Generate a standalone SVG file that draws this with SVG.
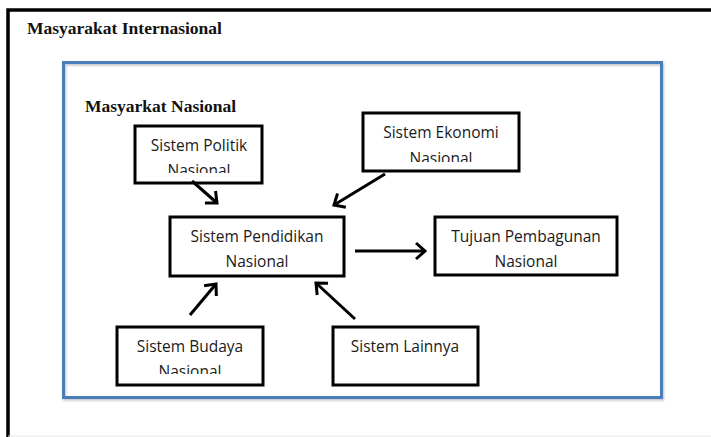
<svg xmlns="http://www.w3.org/2000/svg" width="711" height="437" viewBox="0 0 711 437">
<style>
.node rect{fill:#fff;stroke:#000;stroke-width:3}
.lbl{font-family:"Open Sans","Liberation Sans",sans-serif;font-size:15.5px;fill:#1a1a1a;text-anchor:middle}
.ttl{font-family:"Liberation Serif","Times New Roman",serif;font-weight:bold;font-size:17.5px;fill:#111}
.conn line{stroke:#000;stroke-width:3;marker-end:url(#ah)}
</style>
<defs>
<marker id="ah" markerUnits="userSpaceOnUse" markerWidth="20" markerHeight="20" refX="12" refY="10" orient="auto">
<path d="M3,2 L12,10 L3,18" fill="none" stroke="#000" stroke-width="3"/>
</marker>
<clipPath id="cPol"><rect x="135" y="126" width="127" height="47"/></clipPath>
<clipPath id="cEko"><rect x="363" y="113" width="156" height="49"/></clipPath>
<clipPath id="cBud"><rect x="117" y="327" width="146" height="47"/></clipPath>
<filter id="sh" x="-5%" y="-5%" width="110%" height="110%"><feDropShadow dx="1" dy="1.5" stdDeviation="1" flood-color="#000" flood-opacity="0.25"/></filter>
</defs>
<rect width="711" height="437" fill="#fff"/>
<g id="outer">
<path d="M8,437 V10 H711" fill="none" stroke="#000" stroke-width="3.5"/>
<line x1="8" y1="436" x2="711" y2="436" stroke="#e6e6e6" stroke-width="1"/>
<text class="ttl" x="27" y="34">Masyarakat Internasional</text>
</g>
<g id="nasional">
<rect x="63.5" y="62.5" width="598" height="335" fill="none" stroke="#4a7ebb" stroke-width="3" filter="url(#sh)"/>
<text class="ttl" x="85" y="112">Masyarkat Nasional</text>
</g>
<g id="politik" class="node">
<rect x="135" y="126" width="127" height="57"/>
<g clip-path="url(#cPol)">
<text class="lbl" x="199" y="151">Sistem Politik</text>
<text class="lbl" x="199" y="176">Nasional</text>
</g>
</g>
<g id="ekonomi" class="node">
<rect x="363" y="113" width="156" height="58"/>
<g clip-path="url(#cEko)">
<text class="lbl" x="441" y="138">Sistem Ekonomi</text>
<text class="lbl" x="441" y="164">Nasional</text>
</g>
</g>
<g id="pendidikan" class="node">
<rect x="170" y="217" width="174" height="59"/>
<text class="lbl" x="257" y="242">Sistem Pendidikan</text>
<text class="lbl" x="257" y="267">Nasional</text>
</g>
<g id="tujuan" class="node">
<rect x="435" y="217" width="182" height="58"/>
<text class="lbl" x="526" y="242">Tujuan Pembagunan</text>
<text class="lbl" x="526" y="267">Nasional</text>
</g>
<g id="budaya" class="node">
<rect x="117" y="327" width="146" height="58"/>
<g clip-path="url(#cBud)">
<text class="lbl" x="190" y="352">Sistem Budaya</text>
<text class="lbl" x="190" y="377">Nasional</text>
</g>
</g>
<g id="lainnya" class="node">
<rect x="333" y="327" width="145" height="58"/>
<text class="lbl" x="405" y="352">Sistem Lainnya</text>
</g>
<g id="connectors" class="conn">
<line x1="192" y1="181" x2="217" y2="203"/>
<line x1="385" y1="174" x2="334" y2="205"/>
<line x1="355" y1="251" x2="425" y2="251"/>
<line x1="190" y1="315" x2="216" y2="284"/>
<line x1="355" y1="319" x2="316" y2="283"/>
</g>
</svg>
